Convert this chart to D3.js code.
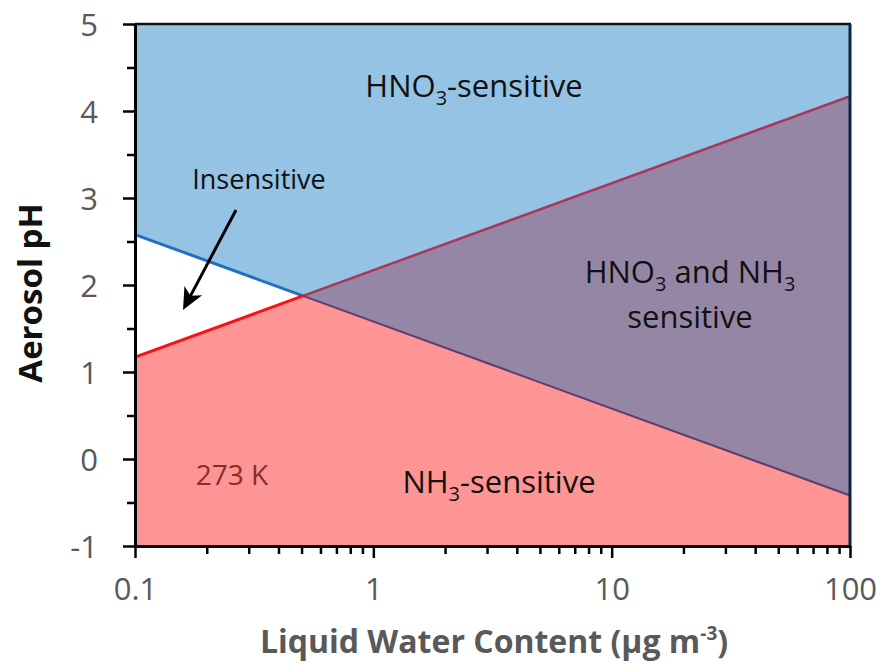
<!DOCTYPE html>
<meta charset="utf-8">
<title>Aerosol pH sensitivity regimes</title>
<style>
    body { margin: 0; background: #fff; }
    svg text { font-family: "Open Sans", "Noto Sans", sans-serif; }
</style>
<body>
<script src="https://d3js.org/d3.v7.min.js"></script>
<script>

    // axis ranges
    var lwcDomain = [0.1, 100],
        phDomain = [-1, 5];

    var xMajor = [0.1, 1, 10, 100],
        xMinor = [0.2, 0.3, 0.4, 0.5, 0.6, 0.7, 0.8, 0.9, 2, 3, 4, 5, 6, 7, 8, 9, 20, 30, 40, 50, 60, 70, 80, 90],
        yMajor = [-1, 0, 1, 2, 3, 4, 5],
        yMinor = [-0.5, 0.5, 1.5, 2.5, 3.5, 4.5];

    // regime boundaries (pH at the two ends of the LWC range)
    var hno3Line = [{ lwc: 0.1, ph: 2.58 }, { lwc: 100, ph: -0.42 }],
        nh3Line  = [{ lwc: 0.1, ph: 1.17 }, { lwc: 100, ph: 4.17 }];

    var width = 886,
        height = 666;

    var x = d3.scaleLog().domain(lwcDomain).range([135, 850]),
        y = d3.scaleLinear().domain(phDomain).range([546, 24]);

    // crossing point of the two boundaries (straight lines in log space)
    function crossing(a, b) {
        var ax0 = Math.log10(a[0].lwc), ax1 = Math.log10(a[1].lwc);
        var sa = (a[1].ph - a[0].ph) / (ax1 - ax0),
            sb = (b[1].ph - b[0].ph) / (ax1 - ax0);
        var t = (b[0].ph - a[0].ph) / (sa - sb);
        return { lwc: Math.pow(10, ax0 + t), ph: a[0].ph + sa * t };
    }
    var cross = crossing(hno3Line, nh3Line);

    var svg = d3.select("body").append("svg")
        .attr("width", width)
        .attr("height", height);

    var line = d3.line()
        .x(function(d) { return x(d.lwc); })
        .y(function(d) { return y(d.ph); });

    var phTop = phDomain[1], phBottom = phDomain[0];

    var regions = [
        { fill: "#95c3e4", pts: [
            { lwc: lwcDomain[0], ph: phTop }, { lwc: lwcDomain[1], ph: phTop },
            nh3Line[1], cross, hno3Line[0] ] },
        { fill: "#fd9594", pts: [
            { lwc: lwcDomain[0], ph: phBottom }, nh3Line[0], cross,
            hno3Line[1], { lwc: lwcDomain[1], ph: phBottom } ] },
        { fill: "#9586a6", pts: [ cross, nh3Line[1], hno3Line[1] ] }
    ];

    svg.selectAll("path.region")
        .data(regions)
        .enter().append("path")
        .attr("class", "region")
        .attr("d", function(d) { return line(d.pts) + "Z"; })
        .style("fill", function(d) { return d.fill; });

    // boundary lines
    var segs = [
        { pts: [hno3Line[0], cross], color: "#1f6fc2", w: 3 },
        { pts: [nh3Line[0], cross], color: "#ff1010", w: 3 },
        { pts: [cross, nh3Line[1]], color: "#a8375c", w: 2.5 },
        { pts: [cross, hno3Line[1]], color: "#5e3d6e", w: 2 }
    ];
    svg.selectAll("path.seg")
        .data(segs)
        .enter().append("path")
        .attr("class", "seg")
        .attr("d", function(d) { return line(d.pts); })
        .style("fill", "none")
        .style("stroke", function(d) { return d.color; })
        .style("stroke-width", function(d) { return d.w; });

    // frame: top and right
    svg.append("line")
        .attr("x1", x(lwcDomain[0])).attr("x2", x(lwcDomain[1]) + 1)
        .attr("y1", y(phTop)).attr("y2", y(phTop))
        .style("stroke", "#111").style("stroke-width", 2.5);
    svg.append("line")
        .attr("x1", x(lwcDomain[1])).attr("x2", x(lwcDomain[1]))
        .attr("y1", y(phTop)).attr("y2", y(phBottom))
        .style("stroke", "#0c2540").style("stroke-width", 3);

    // axes
    svg.append("g")
        .attr("transform", "translate(" + x(lwcDomain[0]) + ",0)")
        .call(d3.axisLeft(y).tickValues(yMinor).tickSize(8).tickSizeOuter(0).tickFormat(""));
    var yAxis = svg.append("g")
        .attr("transform", "translate(" + x(lwcDomain[0]) + ",0)")
        .call(d3.axisLeft(y).tickValues(yMajor).tickSize(12).tickSizeOuter(0).tickPadding(25)
            .tickFormat(function(d) { return String(d); }));
    svg.append("g")
        .attr("transform", "translate(0," + y(phBottom) + ")")
        .call(d3.axisBottom(x).tickValues(xMinor).tickSize(8).tickSizeOuter(0).tickFormat(""));
    var xAxis = svg.append("g")
        .attr("transform", "translate(0," + y(phBottom) + ")")
        .call(d3.axisBottom(x).tickValues(xMajor).tickSize(12).tickSizeOuter(0).tickPadding(20)
            .tickFormat(function(d) { return String(d); }));

    svg.selectAll(".domain").style("stroke", "#000").style("stroke-width", 3);
    svg.selectAll(".tick line").style("stroke", "#000").style("stroke-width", 2.5);
    svg.selectAll(".tick text")
        .style("font-family", "'Open Sans', sans-serif")
        .style("font-size", "31px")
        .style("fill", "#595959");
    yAxis.selectAll(".tick text").attr("dy", "0.36em");

    // axis titles
    svg.append("text")
        .attr("transform", "translate(42,293) rotate(-90)")
        .attr("text-anchor", "middle")
        .style("font-size", "33px")
        .style("font-weight", "bold")
        .style("fill", "#111")
        .text("Aerosol pH");

    var xt = svg.append("text")
        .attr("x", 494).attr("y", 653)
        .attr("text-anchor", "middle")
        .style("font-size", "32px")
        .style("font-weight", "bold")
        .style("fill", "#595959");
    xt.append("tspan").text("Liquid Water Content (\u00b5g m");
    xt.append("tspan").attr("dy", -13).style("font-size", "19px").text("-3");
    xt.append("tspan").attr("dy", 13).text(")");

    // region labels with subscripts
    function label(xp, yp, parts, size) {
        var t = svg.append("text")
            .attr("x", xp).attr("y", yp)
            .attr("text-anchor", "middle")
            .style("font-size", size + "px")
            .style("fill", "#111");
        var shift = 0;
        parts.forEach(function(p) {
            var sub = p[0] === "_";
            var s = t.append("tspan").text(sub ? p.slice(1) : p);
            var target = sub ? 8 : 0;
            if (target !== shift) { s.attr("dy", target - shift); shift = target; }
            if (sub) s.style("font-size", Math.round(size * 0.66) + "px");
        });
        return t;
    }

    label(474, 97, ["HNO", "_3", "-sensitive"], 31);
    label(690, 283, ["HNO", "_3", " and NH", "_3"], 31);
    label(690, 328, ["sensitive"], 31);
    label(499, 493, ["NH", "_3", "-sensitive"], 31);
    label(259, 189, ["Insensitive"], 27);

    svg.append("text")
        .attr("x", 232).attr("y", 485)
        .attr("text-anchor", "middle")
        .style("font-size", "28px")
        .style("fill", "#8b2c2c")
        .text("273 K");

    // arrow pointing into the insensitive wedge
    var arrowFrom = [236, 210], arrowTo = [183, 310];
    var ang = Math.atan2(arrowTo[1] - arrowFrom[1], arrowTo[0] - arrowFrom[0]);
    svg.append("line")
        .attr("x1", arrowFrom[0]).attr("y1", arrowFrom[1])
        .attr("x2", arrowTo[0] - 10 * Math.cos(ang)).attr("y2", arrowTo[1] - 10 * Math.sin(ang))
        .style("stroke", "#000").style("stroke-width", 3);
    svg.append("path")
        .attr("d", "M0,0 L-22,-10 L-16,0 L-22,10 Z")
        .attr("transform", "translate(" + arrowTo[0] + "," + arrowTo[1] + ") rotate(" + (ang * 180 / Math.PI) + ")")
        .style("fill", "#000");

</script>
</body>
